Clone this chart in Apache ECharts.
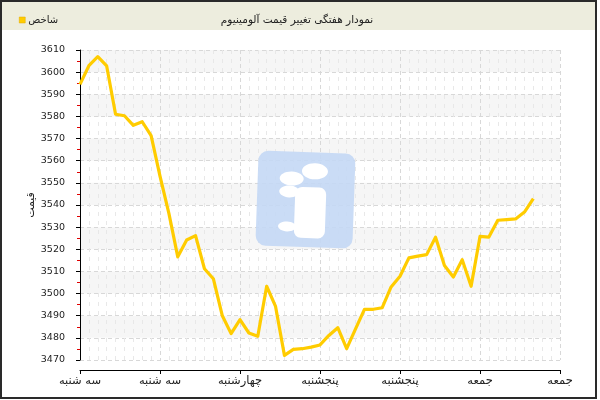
<!DOCTYPE html>
<html>
<head>
<meta charset="utf-8">
<script src="https://cdn.jsdelivr.net/npm/echarts@6/dist/echarts.min.js"></script>
<style>
html,body{margin:0;padding:0;background:#fff;}
#c{width:600px;height:400px;}
</style>
</head>
<body>
<div id="c"></div>
<script>
var titleText = 'نمودار هفتگی تغییر قیمت آلومینیوم';
var seriesName = 'شاخص';
var yAxisName = 'قیمت';
var tickLabels = ['سه شنبه','سه شنبه','چهارشنبه','پنجشنبه','پنجشنبه','جمعه','جمعه'];
var values = [
  3594.5, 3602.9, 3607.0, 3602.8, 3581.0, 3580.3, 3576.0, 3577.6, 3571.3, 3553.0,
  3536.2, 3516.6, 3524.2, 3526.2, 3511.2, 3506.7, 3490.1, 3481.9, 3488.2, 3482.2,
  3480.7, 3503.3, 3494.2, 3472.1, 3474.8, 3475.1, 3475.8, 3476.8, 3481.1, 3484.6,
  3475.1, 3484.1, 3492.9, 3492.9, 3493.6, 3503.0, 3507.8, 3516.1, 3516.9, 3517.6,
  3525.5, 3512.7, 3507.5, 3515.3, 3503.3, 3525.8, 3525.5, 3533.1, 3533.4, 3533.7,
  3536.8, 3542.9
];
var xMax = 54, xStep = 9;

var chart = echarts.init(document.getElementById('c'), null, {renderer:'canvas'});
var pairs = values.map(function(v, i){ return [i, v]; });

chart.setOption({
  animation: false,
  backgroundColor: '#fff',
  graphic: [
    { type:'rect', z:0, silent:true, shape:{x:1, y:1, width:596, height:29}, style:{fill:'#ededde'} },
    { type:'rect', z:100, silent:true, shape:{x:1, y:1, width:595, height:397}, style:{fill:'none', stroke:'#2a2a2a', lineWidth:2} },
    { type:'group', z:3, silent:true, x:305, y:199, rotation:-0.035, children:[
      { type:'rect', z:3, shape:{x:-48, y:-47, width:97, height:95, r:10}, style:{fill:'#c4d8f5', opacity:0.9} },
      { type:'ellipse', z:4, shape:{cx:9, cy:-28, rx:13, ry:8}, style:{fill:'#fff'} },
      { type:'ellipse', z:4, shape:{cx:-14, cy:-20, rx:12, ry:7}, style:{fill:'#fff'} },
      { type:'rect', z:4, shape:{x:-10, y:-12, width:31, height:51, r:7}, style:{fill:'#fff'} },
      { type:'ellipse', z:4, shape:{cx:-16, cy:-7, rx:10, ry:6}, style:{fill:'#fff'} },
      { type:'ellipse', z:4, shape:{cx:-17, cy:28, rx:9, ry:5}, style:{fill:'#fff'} }
    ]}
  ],
  title: {
    text: titleText,
    left: 292, top: 10, textAlign: 'center',
    textStyle: { fontFamily:'DejaVu Sans', fontSize:10.5, fontWeight:'normal', color:'#222' }
  },
  legend: {
    left: 14, top: 10, itemWidth: 6, itemHeight: 6, itemGap: 3,
    icon: 'rect',
    textStyle: { fontFamily:'DejaVu Sans', fontSize:10, color:'#222', padding:[0,0,0,-2] },
    data: [{ name: seriesName, itemStyle:{ color:'#ffcc00', borderColor:'#e0a800', borderWidth:0.5 } }]
  },
  grid: { left: 80, right: 40, top: 50, bottom: 40, containLabel: false },
  xAxis: {
    type: 'value', min: 0, max: xMax, interval: xStep, offset: 10,
    axisLine: { show:true, lineStyle:{ color:'#000', width:1 } },
    axisTick: { show:true, length:4, lineStyle:{ color:'#000' } },
    axisLabel: {
      margin: 5, fontFamily:'DejaVu Sans', fontSize:11.5, color:'#222',
      formatter: function(v){ return tickLabels[Math.round(v / xStep)] || ''; }
    },
    splitLine: { show:true, lineStyle:{ color:'#d8d8d8', type:[4,3] } },
    minorTick: { show:false, splitNumber: 9 },
    minorSplitLine: { show:true, lineStyle:{ color:'#e8e8e8', type:[4,5] } }
  },
  yAxis: {
    type: 'value', min: 3470, max: 3610, interval: 10, offset: 10,
    name: yAxisName, nameLocation: 'middle', nameRotate: 90, nameGap: 33,
    nameMoveOverlap: false,
    nameTextStyle: { fontFamily:'DejaVu Sans', fontSize:11, color:'#222' },
    axisLine: { show:true, lineStyle:{ color:'#000', width:1 } },
    axisTick: { show:true, length:4, lineStyle:{ color:'#000' } },
    minorTick: { show:true, splitNumber:2, length:3, lineStyle:{ color:'#e00000' } },
    axisLabel: { margin: 5, fontFamily:'DejaVu Sans', fontSize:9.5, color:'#222',
      formatter: function(v){ return String(v); } },
    splitLine: { show:true, lineStyle:{ color:'#d8d8d8', type:[4,3] } },
    splitArea: { show:true, areaStyle:{ color:['rgba(255,255,255,0)','rgba(240,240,240,0.6)'] } }
  },
  series: [{
    name: seriesName, type: 'line', data: pairs, symbol: 'none', smooth: false, z: 5,
    lineStyle: { color:'#ffcc00', width:3.2, join:'round' },
    itemStyle: { color:'#ffcc00' }
  }]
});
</script>
</body>
</html>
